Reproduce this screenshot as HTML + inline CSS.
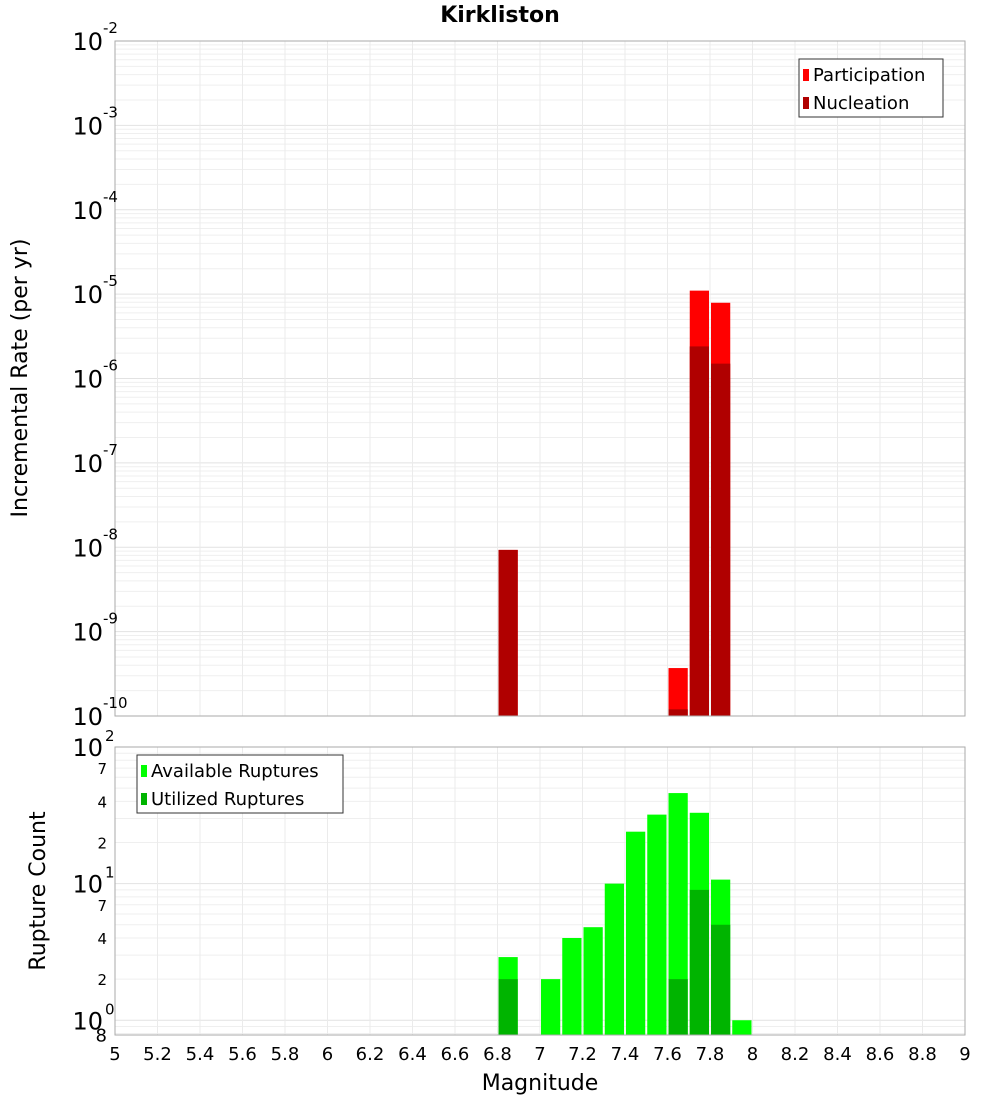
<!DOCTYPE html>
<html><head><meta charset="utf-8"><style>
body{margin:0;background:#fff;}
svg{display:block;font-family:"DejaVu Sans","Liberation Sans",sans-serif;}
</style></head><body>
<svg id="c" width="1000" height="1100"></svg>
<script>
const magBins=[6.85,7.65,7.75,7.85];
const participation=[9.3e-9,3.7e-10,1.1e-5,7.9e-6];
const nucleation=[9.3e-9,1.2e-10,2.4e-6,1.5e-6];
const countBins=[6.85,7.05,7.15,7.25,7.35,7.45,7.55,7.65,7.75,7.85,7.95];
const available=[2.9,2,4,4.8,10,24,32,46,33,10.7,1];
const utilized=[2,0,0,0,0,0,0,2,9,5,0];
const xTicks=[5,5.2,5.4,5.6,5.8,6,6.2,6.4,6.6,6.8,7,7.2,7.4,7.6,7.8,8,8.2,8.4,8.6,8.8,9];
const topExp=[-2,-3,-4,-5,-6,-7,-8,-9,-10];
const botMinor=[2,4,7];

const NS="http://www.w3.org/2000/svg",svg=document.getElementById('c');
function el(t,a,p){const e=document.createElementNS(NS,t);for(const k in a)e.setAttribute(k,a[k]);(p||svg).appendChild(e);return e;}
const X0=115,X1=965;
const xs=m=>X0+(m-5)/4*(X1-X0);
const T0=41,T1=716,yt=v=>T0+(-2-Math.log10(v))/8*(T1-T0);
const B0=747,B1=1035,BL=Math.log10(0.78),yb=v=>B0+(2-Math.log10(v))/(2-BL)*(B1-B0);

function grid(y0,y1,ys,lo,hi){
  const g=el('g',{});
  
  for(let e=lo;e<hi;e++)for(let k=1;k<10;k++){const v=k*Math.pow(10,e);const y=ys(v);if(y<y0-0.5||y>y1+0.5)continue;
    el('line',{x1:X0,x2:X1,y1:y,y2:y,stroke:k==1?'#e2e2e2':'#efefef','stroke-width':1},g);}
  xTicks.forEach(t=>{const x=xs(t);el('line',{x1:x,x2:x,y1:y0,y2:y1,stroke:'#ebebeb'},g);});
}
el('rect',{x:X0,y:T0,width:X1-X0,height:T1-T0,fill:'#fff'});
grid(T0,T1,yt,-10,-1);
grid(B0,B1,yb,-1,2);

function bar(m,v,ys,base,fill,name){
  const x=xs(m-0.05)+1,w=xs(m+0.05)-xs(m-0.05)-2,y=ys(v);
  const r=el('rect',{x:x,y:y,width:w,height:base-y,fill:fill});
  
}
magBins.forEach((m,i)=>bar(m,participation[i],yt,T1,'#ff0000','participation-bar'));
magBins.forEach((m,i)=>bar(m,nucleation[i],yt,T1,'#b00000','nucleation-bar'));
countBins.forEach((m,i)=>{if(available[i]>0)bar(m,available[i],yb,B1,'#00ff00','available-bar');});
countBins.forEach((m,i)=>{if(utilized[i]>0)bar(m,utilized[i],yb,B1,'#00b400','utilized-bar');});

el('rect',{x:X0,y:T0,width:X1-X0,height:T1-T0,fill:'none',stroke:'#aaa'});
el('rect',{x:X0,y:B0,width:X1-X0,height:B1-B0,fill:'none',stroke:'#aaa'});

function txt(x,y,s,size,anchor,extra){const t=el('text',Object.assign({x:x,y:y,'font-size':size,'text-anchor':anchor||'start',fill:'#000'},extra||{}));t.textContent=s;return t;}
topExp.forEach(e=>{const y=yt(Math.pow(10,e));
  const t=txt(103,y+9,'10',24,'end');
  txt(103,y-8,String(e),15,'start');});
[2,1,0].forEach(e=>{const y=yb(Math.pow(10,e));
  const t=txt(103,y+9,'10',24,'end');
  txt(105,y-6,String(e),15,'start');
  botMinor.forEach(k=>{const v=k*Math.pow(10,e-1);const yy=yb(v);if(yy>B0+5&&yy<B1)txt(107,yy+6,String(k),15,'end');});});
txt(107,yb(0.8)+8,'8',18,'end');
xTicks.forEach(t=>{const l=txt(xs(t),1060,String(t),18,'middle');});

let t=txt(500,22,'Kirkliston',22,'middle',{'font-weight':'bold'});
t=txt(540,1090,'Magnitude',22,'middle');
t=txt(0,0,'Incremental Rate (per yr)',22,'middle',{transform:'translate(27,378) rotate(-90)'});
t=txt(0,0,'Rupture Count',22,'middle',{transform:'translate(45,891) rotate(-90)'});

function legend(x,y,w,items,name){
  const g=el('g',{});
  el('rect',{x:x,y:y,width:w,height:58,fill:'#fff',stroke:'#333'},g);
  items.forEach((it,i)=>{el('rect',{x:x+4,y:y+10+i*28,width:6,height:12,fill:it[1]},g);
    const tt=el('text',{x:x+14,y:y+22+i*28,'font-size':18,fill:'#000'},g);tt.textContent=it[0];});
}
legend(799,59,144,[['Participation','#ff0000'],['Nucleation','#b00000']],'legend-top');
legend(137,755,206,[['Available Ruptures','#00ff00'],['Utilized Ruptures','#00b400']],'legend-bottom');
</script>
</body></html>
